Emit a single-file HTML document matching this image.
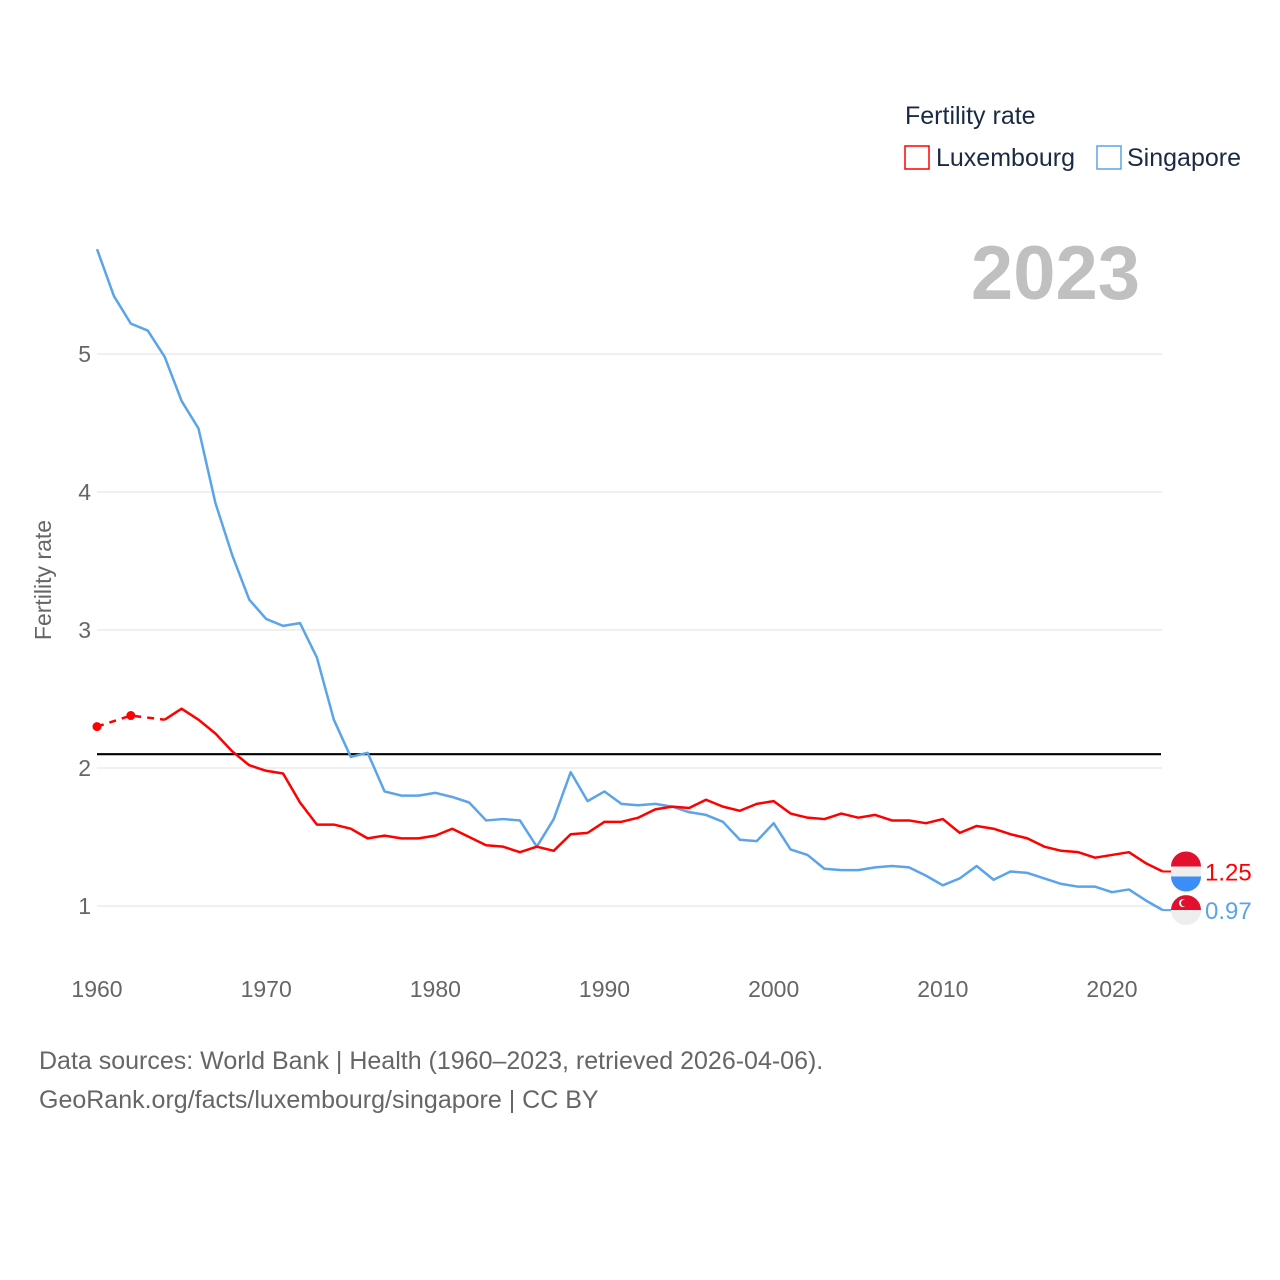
<!DOCTYPE html>
<html><head><meta charset="utf-8"><style>
html,body{margin:0;padding:0;background:#fff;width:1280px;height:1280px;overflow:hidden}
svg{font-family:"Liberation Sans",sans-serif}
</style></head><body>
<svg id="chart" width="1280" height="1280" viewBox="0 0 1280 1280" xmlns="http://www.w3.org/2000/svg">
<g id="grid"></g>
<g id="yticks"></g>
<g id="xticks"></g>
<text transform="translate(51,580) rotate(-90)" text-anchor="middle" font-size="23" fill="#666">Fertility rate</text>
<text x="1140" y="299" text-anchor="end" font-size="76" font-weight="bold" fill="#c0c0c0">2023</text>
<g>
<text x="905" y="124" font-size="25" fill="#1a2a44">Fertility rate</text>
<rect x="905" y="146" width="24" height="23" fill="none" stroke="#ff0000" stroke-width="1.5"/>
<text x="936" y="166" font-size="25" fill="#1a2a44">Luxembourg</text>
<rect x="1097" y="146" width="24" height="23" fill="none" stroke="#5ba4e8" stroke-width="1.5"/>
<text x="1127" y="166" font-size="25" fill="#1a2a44">Singapore</text>
</g>
<line id="repl" stroke="#000" stroke-width="2.2"/>
<g id="series"></g>
<g id="endlabels"></g>
<text x="39" y="1069" font-size="25" fill="#666">Data sources: World Bank | Health (1960–2023, retrieved 2026-04-06).</text>
<text x="39" y="1108" font-size="25" fill="#666">GeoRank.org/facts/luxembourg/singapore | CC BY</text>
</svg>
<script>
const years = [];
for (let y = 1960; y <= 2023; y++) years.push(y);
const singapore = [5.76,5.42,5.22,5.17,4.98,4.66,4.46,3.92,3.54,3.22,3.08,3.03,3.05,2.80,2.35,2.08,2.11,1.83,1.80,1.80,1.82,1.79,1.75,1.62,1.63,1.62,1.43,1.63,1.97,1.76,1.83,1.74,1.73,1.74,1.72,1.68,1.66,1.61,1.48,1.47,1.60,1.41,1.37,1.27,1.26,1.26,1.28,1.29,1.28,1.22,1.15,1.20,1.29,1.19,1.25,1.24,1.20,1.16,1.14,1.14,1.10,1.12,1.04,0.97];
const luxembourg = [2.30,null,2.38,null,2.35,2.43,2.35,2.25,2.12,2.02,1.98,1.96,1.75,1.59,1.59,1.56,1.49,1.51,1.49,1.49,1.51,1.56,1.50,1.44,1.43,1.39,1.43,1.40,1.52,1.53,1.61,1.61,1.64,1.70,1.72,1.71,1.77,1.72,1.69,1.74,1.76,1.67,1.64,1.63,1.67,1.64,1.66,1.62,1.62,1.60,1.63,1.53,1.58,1.56,1.52,1.49,1.43,1.40,1.39,1.35,1.37,1.39,1.31,1.25];
const yTicks = [1,2,3,4,5];
const xTicks = [1960,1970,1980,1990,2000,2010,2020];
const replacementRate = 2.1;

const NS = "http://www.w3.org/2000/svg";
const X = yr => 97 + (yr - 1960) * (1112 - 97) / 60;
const Y = v => 906 - (v - 1) * 138;
function mk(tag, attrs, parent){const e=document.createElementNS(NS,tag);for(const k in attrs)e.setAttribute(k,attrs[k]);parent.appendChild(e);return e;}

const grid=document.getElementById('grid'), yt=document.getElementById('yticks'), xt=document.getElementById('xticks');
yTicks.forEach(v=>{
  const l=mk('line',{x1:97,x2:1162,y1:Y(v),y2:Y(v),stroke:'#ebebeb','stroke-width':1.5},grid);
  
  
  const t=mk('text',{x:91,y:Y(v)+8,'text-anchor':'end','font-size':23,fill:'#666'},yt);
  t.textContent=v;
  
  
});
xTicks.forEach(v=>{
  const t=mk('text',{x:X(v),y:997,'text-anchor':'middle','font-size':23,fill:'#666'},xt);
  t.textContent=v;
  
  
});
const r=document.getElementById('repl');
r.setAttribute('x1',97);r.setAttribute('x2',1161);r.setAttribute('y1',Y(replacementRate));r.setAttribute('y2',Y(replacementRate));

const S=document.getElementById('series');
function drawSeries(vals,color,name){
  const g=mk('g',{},S);
  
  
  // find first index after which data is contiguous
  let lastGap=-1; vals.forEach((v,i)=>{if(v===null)lastGap=i;});
  const solidStart = lastGap>=0 ? lastGap+1 : 0;
  const pts=[];vals.forEach((v,i)=>{if(v!==null)pts.push([X(years[i]),Y(v),i]);});
  const dashPts=pts.filter(p=>p[2]<=solidStart), solidPts=pts.filter(p=>p[2]>=solidStart);
  if(dashPts.length>1){
    const d=mk('polyline',{points:dashPts.map(p=>p[0]+','+p[1]).join(' '),fill:'none',stroke:color,'stroke-width':2.5,'stroke-dasharray':'7,6'},g);
    
    
    dashPts.slice(0,-1).forEach(p=>{
      const c=mk('circle',{cx:p[0],cy:p[1],r:4.5,fill:color},g);
      
      
    });
  }
  const l=mk('polyline',{points:solidPts.map(p=>p[0]+','+p[1]).join(' '),fill:'none',stroke:color,'stroke-width':2.5,'stroke-linejoin':'round'},g);
  
  
}
drawSeries(singapore,'#5ba4e8','singapore');
drawSeries(luxembourg,'#ff0000','luxembourg');

const E=document.getElementById('endlabels');
function endLabel(v,color,name,flag){
  const cx=1186, cy=Y(v);
  const g=mk('g',{},E);
  
  
  const ln=mk('line',{x1:X(2023),x2:cx-14,y1:cy,y2:cy,stroke:color,'stroke-width':2},g);
  
  
  if(flag==='lu'){
    mk('path',{d:`M${cx-15},${cy-5} A15,15 0 0 1 ${cx+15},${cy-5} Z`,fill:'#e0102e'},g);
    mk('rect',{x:cx-15,y:cy-5,width:30,height:10,fill:'#eee'},g);
    mk('path',{d:`M${cx-15},${cy+5} A15,15 0 0 0 ${cx+15},${cy+5} Z`,fill:'#3a8ef5'},g);
  } else {
    mk('path',{d:`M${cx-15},${cy} A15,15 0 0 1 ${cx+15},${cy} Z`,fill:'#e0102e'},g);
    mk('path',{d:`M${cx-15},${cy} A15,15 0 0 0 ${cx+15},${cy} Z`,fill:'#eee'},g);
    mk('circle',{cx:cx-3,cy:cy-7,r:4,fill:'#fff'},g);
    mk('circle',{cx:cx-1.5,cy:cy-7,r:3.5,fill:'#e0102e'},g);
  }
  const t=mk('text',{x:1205,y:cy+9,'font-size':24,fill:color},g);
  t.textContent=v.toFixed(2);
  
  
}
endLabel(luxembourg[luxembourg.length-1],'#ff0000','luxembourg','lu');
endLabel(singapore[singapore.length-1],'#5ba4e8','singapore','sg');
</script>
</body></html>
